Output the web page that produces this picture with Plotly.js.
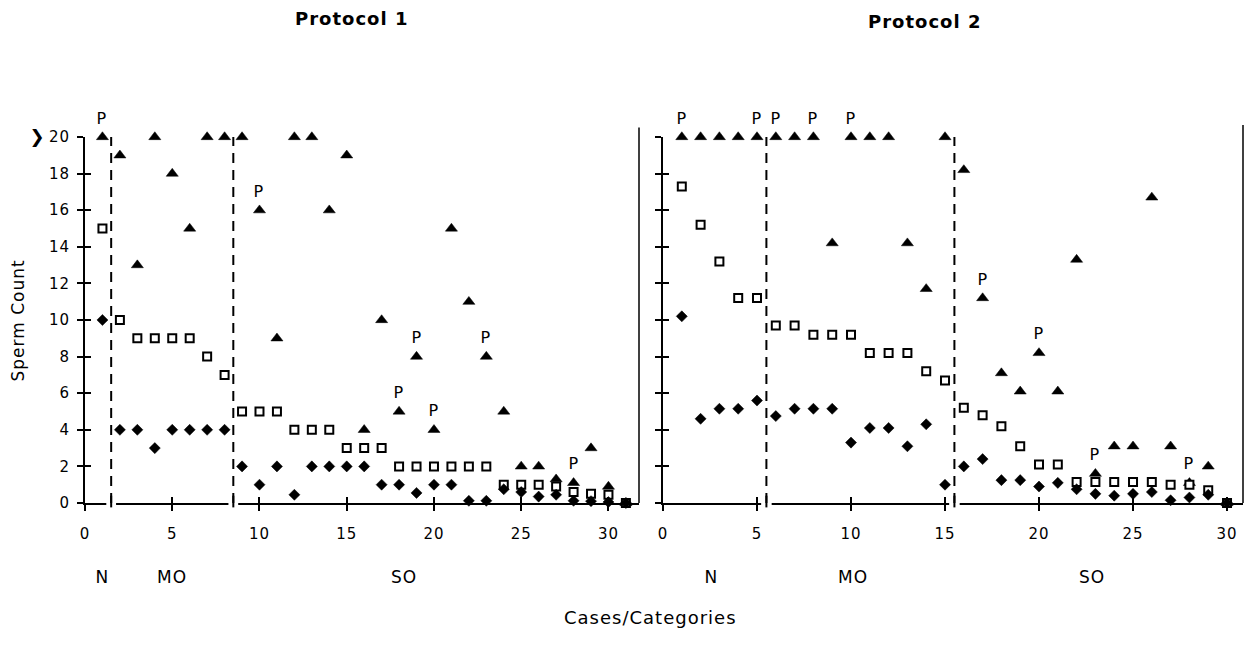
<!DOCTYPE html>
<html><head><meta charset="utf-8">
<script src="https://cdn.plot.ly/plotly-3.0.1.min.js"></script>
<style>html,body{margin:0;padding:0;background:#fff} #chart svg text{letter-spacing:1px}</style>
</head><body><div id="chart" style="width:1245px;height:655px"></div>
<script>
// ---- Protocol 1 (left panel) ----
const cases1 = [1,2,3,4,5,6,7,8,9,10,11,12,13,14,15,16,17,18,19,20,21,22,23,24,25,26,27,28,29,30,31];
const tri1 = [20,19,13,20,18,15,20,20,20,16,9,20,20,16,19,4,10,5,8,4,15,11,8,5,2,2,1.3,1.1,3,0.9,0];
const sq1  = [15,10,9,9,9,9,8,7,5,5,5,4,4,4,3,3,3,2,2,2,2,2,2,1,1,1,0.9,0.6,0.5,0.45,0];
const dm1  = [10,4,4,3,4,4,4,4,2,1,2,0.45,2,2,2,2,1,1,0.55,1,1,0.12,0.12,0.75,0.6,0.35,0.45,0.12,0.1,0.05,0];
const p1   = [1,10,18,19,20,23,28];
const div1 = [1.5, 8.5];
const groups1 = ['N','MO','SO'];
const groupPos1 = [1, 5, 18.3];

// ---- Protocol 2 (right panel) ----
const cases2 = [1,2,3,4,5,6,7,8,9,10,11,12,13,14,15,16,17,18,19,20,21,22,23,24,25,26,27,28,29,30];
const tri2 = [20,20,20,20,20,20,20,20,14.2,20,20,20,14.2,11.7,20,18.2,11.2,7.1,6.1,8.2,6.1,13.3,1.6,3.1,3.1,16.7,3.1,1.1,2.0,0];
const sq2  = [17.3,15.2,13.2,11.2,11.2,9.7,9.7,9.2,9.2,9.2,8.2,8.2,8.2,7.2,6.7,5.2,4.8,4.2,3.1,2.1,2.1,1.15,1.15,1.15,1.15,1.15,1.0,1.0,0.7,0];
const dm2  = [10.2,4.6,5.15,5.15,5.6,4.75,5.15,5.15,5.15,3.3,4.1,4.1,3.1,4.3,1.0,2.0,2.4,1.25,1.25,0.9,1.1,0.75,0.5,0.4,0.5,0.6,0.15,0.3,0.45,0];
const p2   = [1,5,6,8,10,17,20,23,28];
const div2 = [5.5, 15.5];
const groups2 = ['N','MO','SO'];
const groupPos2 = [2.6, 10.1, 22.8];

const xTicks = [0,5,10,15,20,25,30];
const yTicks = [0,2,4,6,8,10,12,14,16,18,20];
const titles = ['Protocol 1','Protocol 2'];

const FONT = 'DejaVu Sans, Verdana, sans-serif';
const triM = {symbol:'triangle-up', size:10.5, color:'#000', line:{color:'#000', width:0.5}};
const sqM  = {symbol:'square', size:8, color:'#fff', line:{color:'#000', width:2}};
const dmM  = {symbol:'diamond', size:8.5, color:'#000', line:{color:'#000', width:0.5}};

function panel(cases, tri, sq, dm, xa, ya) {
  return [
    {x:cases, y:tri, xaxis:xa, yaxis:ya, mode:'markers', type:'scatter', marker:triM, cliponaxis:false, showlegend:false, hoverinfo:'x+y'},
    {x:cases, y:sq,  xaxis:xa, yaxis:ya, mode:'markers', type:'scatter', marker:sqM,  cliponaxis:false, showlegend:false, hoverinfo:'x+y'},
    {x:cases, y:dm,  xaxis:xa, yaxis:ya, mode:'markers', type:'scatter', marker:dmM,  cliponaxis:false, showlegend:false, hoverinfo:'x+y'}
  ];
}
const data = [].concat(
  panel(cases1, tri1, sq1, dm1, 'x', 'y'),
  panel(cases2, tri2, sq2, dm2, 'x2', 'y2'),
  [{x:[null], y:[null], xaxis:'x3', yaxis:'y3', mode:'markers', showlegend:false, hoverinfo:'skip'},
   {x:[null], y:[null], xaxis:'x4', yaxis:'y4', mode:'markers', showlegend:false, hoverinfo:'skip'}]
);

const W = 1245, H = 655;
const yDom = [1 - 503/H, 1 - 137/H];
const xDom1 = [85/W, 639/W];
const xDom2 = [663/W, 1243/W];
const range1 = [0, 31.75];
const range2 = [0, 30.85];

function xAx(dom, range, anchor, labels) {
  return {domain:dom, range:range, anchor:anchor, showgrid:false, zeroline:false,
    showline:true, linecolor:'#000', linewidth:2, ticks:'outside', ticklen:6, tickwidth:2, tickcolor:'#000',
    tickmode:'array', tickvals:xTicks, showticklabels:labels, ticklabelstandoff:10,
    tickfont:{family:FONT, size:15, color:'#000'}, fixedrange:true};
}
function yAx(dom, anchor, labels) {
  return {domain:dom, range:[0,20], anchor:anchor, showgrid:false, zeroline:false,
    showline:true, linecolor:'#000', linewidth:2, ticks:'outside', ticklen:6, tickwidth:2, tickcolor:'#000',
    tickmode:'array', tickvals:yTicks, showticklabels:labels, ticklabelstandoff:4,
    tickfont:{family:FONT, size:15, color:'#000'}, fixedrange:true};
}
function inAx(base, overlay, anchor) {
  const a = Object.assign({}, base);
  a.overlaying = overlay; a.anchor = anchor; a.ticks = 'inside'; a.showline = false; a.showticklabels = false;
  delete a.domain;
  return a;
}

const X1 = xAx(xDom1, range1, 'y', true);
const Y1 = yAx(yDom, 'x', true);
const X2 = xAx(xDom2, range2, 'y2', true);
const Y2 = yAx(yDom, 'x2', false);

const shapes = [];
function dividers(divs, xa, ya, range) {
  divs.forEach(v => {
    const f = (v - range[0]) / (range[1] - range[0]);
    const g = 0.28 / (range[1] - range[0]);
    shapes.push({type:'rect', xref:xa+' domain', yref:ya+' domain', x0:f-g, x1:f+g, y0:-0.009, y1:0.002,
      fillcolor:'#fff', line:{width:0}, layer:'above'});
    shapes.push({type:'line', xref:xa+' domain', yref:ya+' domain', x0:f, x1:f, y0:-0.012, y1:0.02,
      line:{color:'#000', width:2}, layer:'above'});
    shapes.push({type:'line', xref:xa, yref:ya, x0:v, x1:v, y0:0, y1:20, line:{color:'#000', width:2, dash:'10px,7px'}});
  });
}
dividers(div1, 'x', 'y', range1);
dividers(div2, 'x2', 'y2', range2);
shapes.push({type:'line', xref:'x domain', yref:'y domain', x0:1, x1:1, y0:0, y1:1.026, line:{color:'#000', width:1.5}});
shapes.push({type:'line', xref:'x2 domain', yref:'y2 domain', x0:1, x1:1, y0:0, y1:1.033, line:{color:'#000', width:1.5}});

const annotations = [];
function ann(o) { return Object.assign({showarrow:false, xanchor:'center', yanchor:'middle'}, o); }
const pFont = {family:FONT, size:16, color:'#000'};
p1.forEach(c => annotations.push(ann({xref:'x', yref:'y', x:c, y:tri1[cases1.indexOf(c)], text:'P', yshift:19, font:pFont})));
p2.forEach(c => annotations.push(ann({xref:'x2', yref:'y2', x:c, y:tri2[cases2.indexOf(c)], text:'P', yshift:19, font:pFont})));
groups1.forEach((g,i) => annotations.push(ann({xref:'x', yref:'paper', x:groupPos1[i], y:1-577/H, text:g, font:{family:FONT, size:17, color:'#000'}})));
groups2.forEach((g,i) => annotations.push(ann({xref:'x2', yref:'paper', x:groupPos2[i], y:1-577/H, text:g, font:{family:FONT, size:17, color:'#000'}})));
annotations.push(ann({xref:'paper', yref:'paper', x:351/W, y:1-18/H, text:'<b>'+titles[0]+'</b>', font:{family:FONT, size:18, color:'#000'}}));
annotations.push(ann({xref:'paper', yref:'paper', x:924/W, y:1-21/H, text:'<b>'+titles[1]+'</b>', font:{family:FONT, size:18, color:'#000'}}));
annotations.push(ann({xref:'paper', yref:'paper', x:18/W, y:1-320/H, text:'Sperm Count', textangle:-90, font:{family:FONT, size:17, color:'#000'}}));
annotations.push(ann({xref:'paper', yref:'paper', x:650/W, y:1-617/H, text:'Cases/Categories', font:{family:FONT, size:18, color:'#000'}}));
annotations.push(ann({xref:'paper', yref:'y', x:37/W, y:20, text:'\u276F', font:{family:FONT, size:18, color:'#000'}}));

const layout = {
  width:W, height:H, margin:{l:0, r:0, t:0, b:0},
  paper_bgcolor:'#fff', plot_bgcolor:'rgba(0,0,0,0)', showlegend:false,
  xaxis:X1, yaxis:Y1, xaxis2:X2, yaxis2:Y2,
  xaxis3:inAx(X1, 'x', 'y'), yaxis3:inAx(Y1, 'y', 'x'),
  xaxis4:inAx(X2, 'x2', 'y2'), yaxis4:inAx(Y2, 'y2', 'x2'),
  shapes:shapes, annotations:annotations
};
Plotly.newPlot('chart', data, layout, {staticPlot:true, displayModeBar:false});
</script>
</body></html>
